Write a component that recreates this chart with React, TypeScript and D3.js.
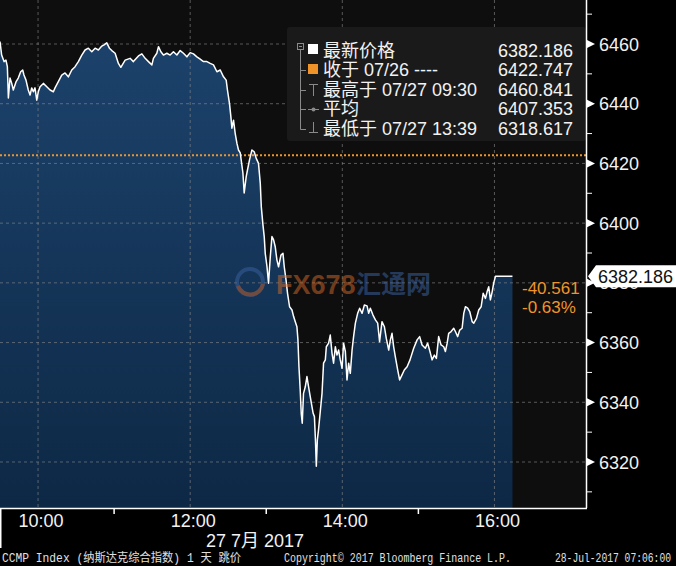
import React from "react";
import * as d3 from "d3";

document.body.style.margin = "0";
document.body.style.background = "#000";

// minutes since 09:30 open
const tradeMinutes = [
  0, 1.3, 3.2, 4.7, 5.8, 6.6, 7.9, 9.2, 10.5, 12.6,
  14.4, 16.3, 17.9, 18.9, 20.5, 22.3, 23.7, 25.0, 26.3, 27.6,
  29.0, 30.2, 31.6, 34.2, 36.9, 39.5, 42.1, 43.4, 46.0, 48.7,
  51.3, 53.9, 56.6, 59.2, 61.8, 64.5, 67.1, 69.7, 72.4, 75.0,
  77.6, 80.3, 82.1, 84.2, 86.3, 88.2, 90.8, 93.4, 95.3, 98.7,
  102.6, 105.2, 109.2, 111.9, 114.5, 117.1, 119.8, 121.0, 123.7, 125.0,
  126.9, 128.9, 131.6, 134.2, 136.8, 139.5, 142.1, 144.7, 147.4, 150.0,
  152.6, 155.3, 157.9, 160.5, 163.2, 165.8, 168.4, 171.1, 173.7, 176.3,
  178.4, 179.4, 181.0, 182.1, 182.9, 184.2, 185.5, 186.9, 188.1, 189.5,
  191.6, 192.6, 194.2, 195.2, 196.8, 198.7, 200.5, 202.1, 203.9, 205.3,
  206.1, 207.4, 208.4, 209.2, 210.6, 211.8, 213.2, 214.5, 215.8, 217.1,
  218.4, 219.7, 221.6, 223.2, 224.2, 225.6, 226.8, 228.4, 230.3, 231.6,
  232.9, 234.2, 235.0, 235.8, 236.8, 237.6, 238.4, 239.4, 240.8, 242.1,
  243.4, 244.7, 246.1, 247.0, 248.0, 248.8, 249.5, 250.3, 251.2, 254.0,
  255.2, 256.6, 257.4, 259.2, 260.5, 261.9, 263.1, 264.5, 265.8, 267.1,
  268.4, 269.8, 271.0, 272.4, 273.7, 275.0, 276.3, 277.7, 278.9, 280.3,
  282.1, 283.7, 285.6, 287.4, 289.5, 290.8, 292.1, 294.2, 296.1, 297.9,
  299.4, 301.3, 303.2, 304.7, 306.6, 307.9, 309.2, 310.5, 311.8, 313.7,
  315.2, 317.1, 318.9, 321.1, 323.4, 326.3, 329.0, 331.0, 332.9, 335.5,
  337.3, 339.5, 340.8, 342.6, 344.2, 346.0, 347.9, 350.0, 351.3, 352.7,
  353.9, 355.8, 357.9, 359.2, 361.0, 362.6, 364.5, 365.8, 367.1, 368.9,
  370.5, 372.4, 373.7, 375.8, 377.6, 379.5, 381.1, 382.9, 384.2, 385.5,
  386.8, 388.2, 389.4, 390.8, 404.2,
];

const tradePrices = [
  6460.841, 6456.3, 6454.1, 6454.6, 6452.4, 6441.9, 6448.6, 6446.9, 6444.6, 6447.3,
  6448.6, 6450.7, 6451.3, 6449.6, 6447.9, 6444.6, 6442.9, 6445.3, 6444.0, 6445.3,
  6441.2, 6444.0, 6445.7, 6446.8, 6445.7, 6444.6, 6444.0, 6445.3, 6447.4, 6449.6,
  6450.3, 6449.0, 6451.3, 6452.4, 6454.1, 6456.3, 6458.0, 6458.6, 6457.4, 6458.6,
  6458.0, 6459.3, 6459.7, 6460.4, 6458.6, 6457.8, 6456.9, 6453.5, 6452.2, 6454.6,
  6455.2, 6454.1, 6456.0, 6456.7, 6455.2, 6454.1, 6453.0, 6455.2, 6456.9, 6459.1,
  6457.4, 6456.3, 6456.9, 6456.3, 6457.4, 6456.3, 6457.8, 6456.9, 6455.7, 6457.1,
  6456.7, 6455.7, 6454.9, 6454.1, 6454.1, 6453.5, 6453.0, 6450.7, 6451.3, 6449.0,
  6447.9, 6444.6, 6440.1, 6435.7, 6431.8, 6434.5, 6430.1, 6426.7, 6424.5, 6423.5,
  6416.8, 6410.1, 6415.6, 6417.8, 6421.2, 6424.5, 6423.9, 6421.7, 6420.0, 6413.3,
  6405.5, 6399.4, 6395.5, 6389.9, 6385.4, 6379.9, 6388.8, 6395.5, 6394.4, 6392.1,
  6387.7, 6385.4, 6389.3, 6389.9, 6385.4, 6381.0, 6376.5, 6372.0, 6370.9, 6368.7,
  6367.0, 6365.3, 6360.9, 6351.9, 6344.1, 6336.3, 6333.0, 6343.0, 6345.2, 6348.6,
  6345.2, 6341.9, 6338.5, 6336.3, 6335.2, 6327.4, 6318.617, 6327.4, 6330.7, 6343.0,
  6353.1, 6354.2, 6358.6, 6359.8, 6362.5, 6356.4, 6353.1, 6358.6, 6355.8, 6357.5,
  6354.2, 6351.4, 6359.8, 6357.0, 6347.5, 6353.1, 6349.7, 6357.5, 6362.0, 6366.5,
  6369.8, 6371.5, 6369.8, 6372.6, 6372.3, 6369.8, 6371.5, 6369.2, 6367.6, 6366.5,
  6360.3, 6367.0, 6365.3, 6361.4, 6357.5, 6360.9, 6363.1, 6358.6, 6355.3, 6350.8,
  6347.5, 6349.2, 6350.8, 6351.9, 6354.2, 6358.1, 6360.9, 6362.0, 6359.2, 6358.1,
  6359.8, 6356.4, 6354.2, 6355.8, 6354.7, 6362.0, 6359.2, 6358.6, 6357.0, 6359.8,
  6363.1, 6363.7, 6364.8, 6363.7, 6362.0, 6364.2, 6364.8, 6369.8, 6372.0, 6371.5,
  6370.4, 6367.0, 6366.5, 6368.1, 6370.9, 6372.0, 6376.5, 6374.8, 6377.0, 6378.7,
  6374.3, 6377.0, 6379.9, 6382.186, 6382.186,
];

const prevClose = 6422.747;
const lastPrice = 6382.186;
const lastPriceLabel = "6382.186";
const changeLabels = ["-40.561", "-0.63%"];

const yTicks = [6320, 6340, 6360, 6380, 6400, 6420, 6440, 6460];
const yMinorTicks = [6310, 6330, 6350, 6370, 6390, 6410, 6430, 6450, 6470];
const xTickMinutes = [30, 150, 270, 390];
const xTickLabels = ["10:00", "12:00", "14:00", "16:00"];
const xMinorMinutes = [90, 210, 330];
const dateLabel = "27 7月 2017";

const legendLabels = ["最新价格", "收于 07/26 ----", "最高于 07/27 09:30", "平均", "最低于 07/27 13:39"];
const legendValues = ["6382.186", "6422.747", "6460.841", "6407.353", "6318.617"];

const footerTexts = [
  "CCMP Index (纳斯达克综合指数) 1 天  跳价",
  "Copyright© 2017 Bloomberg Finance L.P.",
  "28-Jul-2017 07:06:00",
];

const W = 676;
const H = 566;
const PR = 587;
const PB = 508;
const SANS = "'Liberation Sans', Arial, 'Noto Sans CJK SC', sans-serif";
const MONO = "'Liberation Mono', 'Noto Sans CJK SC', monospace";
const ORANGE = "#f0942a";

export default function App() {
  const x = d3.scaleLinear().domain([0, 463]).range([0, PR]);
  const y = d3.scaleLinear().domain([6320, 6460]).range([462, 44]);
  const data = tradeMinutes.map((m, i) => ({ m, v: tradePrices[i] }));

  const area = d3
    .area<{ m: number; v: number }>()
    .x((d) => x(d.m))
    .y0(PB)
    .y1((d) => y(d.v));
  const line = d3
    .line<{ m: number; v: number }>()
    .x((d) => x(d.m))
    .y((d) => y(d.v));

  const yLast = y(lastPrice);
  const legendBase = [56.5, 76, 95.5, 115, 134.5];

  return (
    <svg width={W} height={H} style={{ display: "block", background: "#000" }}>
      <defs>
        <linearGradient id="areaGrad" x1="0" y1="0" x2="0" y2="1">
          <stop offset="0%" stopColor="#1c426b" />
          <stop offset="100%" stopColor="#0d2845" />
        </linearGradient>
        <clipPath id="plotClip">
          <rect x={0} y={0} width={PR} height={PB} />
        </clipPath>
      </defs>
      <rect x={0} y={0} width={W} height={H} fill="#000" />
      <rect x={0} y={0} width={PR} height={PB} fill="#0e0e0e" />

      <g clipPath="url(#plotClip)">
        <path d={area(data) || ""} fill="url(#areaGrad)" />
        {yTicks.map((t) => (
          <line key={"hg" + t} x1={0} x2={PR} y1={y(t)} y2={y(t)} stroke="#8a8a8a" strokeOpacity={0.6} strokeDasharray="3,3" />
        ))}
        {xTickMinutes.map((t) => (
          <line key={"vg" + t} x1={x(t)} x2={x(t)} y1={0} y2={PB} stroke="#8a8a8a" strokeOpacity={0.6} strokeDasharray="3,3" />
        ))}
        <line x1={0} x2={PR} y1={y(prevClose)} y2={y(prevClose)} stroke={ORANGE} strokeWidth={2} strokeDasharray="2,2" />
        <path d={line(data) || ""} fill="none" stroke="#fff" strokeWidth={1.5} strokeLinejoin="round" />
      </g>

      {/* watermark */}
      <g opacity={0.5}>
        <circle cx={250} cy={282} r={13} fill="none" stroke="#3a62a0" strokeWidth={4} />
        <path d="M238,286 A13,13 0 0,0 263,284" fill="none" stroke="#d0622a" strokeWidth={4} />
        <text x={276} y={294} fontFamily={SANS} fontWeight="bold" fontSize={27} fill="#d66a2a">FX678</text>
        <text x={356} y={293} fontFamily="'Noto Sans CJK SC', sans-serif" fontWeight="bold" fontSize={25} fill="#3d66a8">汇通网</text>
      </g>

      {/* legend */}
      <rect x={287} y={27} width={299} height={114} rx={3} fill="#1a1a1a" />
      <g stroke="#8a8a8a" strokeWidth={1} fill="none">
        <rect x={297.5} y={43.5} width={6} height={6} />
        <line x1={299} x2={302} y1={46.5} y2={46.5} />
        <line x1={300.5} x2={300.5} y1={49.5} y2={129.5} />
        <line x1={300.5} x2={306} y1={70.5} y2={70.5} />
        <line x1={300.5} x2={306} y1={90.5} y2={90.5} />
        <line x1={300.5} x2={306} y1={109.5} y2={109.5} />
        <line x1={300.5} x2={306} y1={129.5} y2={129.5} />
        <line x1={309} x2={318} y1={84.5} y2={84.5} />
        <line x1={313.5} x2={313.5} y1={84.5} y2={96} />
        <line x1={308} x2={319} y1={109.5} y2={109.5} />
        <line x1={313.5} x2={313.5} y1={122} y2={132.5} />
        <line x1={309} x2={318} y1={132.5} y2={132.5} />
      </g>
      <circle cx={313.5} cy={109.5} r={2} fill="#8a8a8a" />
      <rect x={308} y={44} width={10} height={10} fill="#fff" />
      <rect x={308} y={64} width={10} height={10} fill={ORANGE} />
      {legendLabels.map((l, i) => (
        <text key={"ll" + i} x={323} y={legendBase[i]} fontFamily={SANS} fontSize={18} fill="#f2f2f2">{l}</text>
      ))}
      {legendValues.map((v, i) => (
        <text key={"lv" + i} x={573} y={legendBase[i]} textAnchor="end" fontFamily={SANS} fontSize={18} fill="#f2f2f2">{v}</text>
      ))}

      {/* right axis */}
      <line x1={PR - 0.5} x2={PR - 0.5} y1={0} y2={PB} stroke="#fff" strokeWidth={1.5} />
      {yMinorTicks.map((t) => (
        <line key={"ym" + t} x1={PR} x2={PR + 5} y1={y(t)} y2={y(t)} stroke="#fff" strokeWidth={1} />
      ))}
      {yTicks.map((t) => (
        <g key={"yt" + t}>
          <path d={`M${PR},${y(t) - 4}L${PR + 8},${y(t)}L${PR},${y(t) + 4}Z`} fill="#fff" />
          <text x={599} y={y(t) + 6.5} fontFamily={SANS} fontSize={18} fill="#f2f2f2">{t}</text>
        </g>
      ))}

      {/* last price tag */}
      <path
        d={`M${PR + 1},${yLast}L${PR + 9},${yLast - 11}H${W}V${yLast + 11}H${PR + 9}Z`}
        fill="#fff"
      />
      <text x={598} y={yLast + 6.5} fontFamily={SANS} fontSize={18} fill="#111">{lastPriceLabel}</text>
      <text x={522} y={294} fontFamily={SANS} fontSize={17} fill={ORANGE}>{changeLabels[0]}</text>
      <text x={522} y={313} fontFamily={SANS} fontSize={17} fill={ORANGE}>{changeLabels[1]}</text>

      {/* bottom axis */}
      <line x1={0} x2={PR} y1={PB + 0.5} y2={PB + 0.5} stroke="#fff" strokeWidth={1.5} />
      <line x1={0.75} x2={0.75} y1={PB} y2={548} stroke="#fff" strokeWidth={1.5} />
      {xMinorMinutes.map((t) => (
        <line key={"xm" + t} x1={x(t)} x2={x(t)} y1={PB} y2={PB + 6} stroke="#fff" strokeWidth={1.5} />
      ))}
      {xTickMinutes.map((t, i) => (
        <text key={"xt" + t} x={x(t) + 3} y={527} textAnchor="middle" fontFamily={SANS} fontSize={18} fill="#f2f2f2">{xTickLabels[i]}</text>
      ))}
      <text x={206} y={547} fontFamily={SANS} fontSize={18} fill="#f2f2f2">{dateLabel}</text>

      {/* footer */}
      <text x={2} y={562} fontFamily={MONO} fontSize={12} fill="#e0e0e0" textLength={239} lengthAdjust="spacingAndGlyphs">{footerTexts[0]}</text>
      <text x={284} y={562} fontFamily={MONO} fontSize={12} fill="#e0e0e0" textLength={227} lengthAdjust="spacingAndGlyphs">{footerTexts[1]}</text>
      <text x={555} y={562} fontFamily={MONO} fontSize={12} fill="#e0e0e0" textLength={116} lengthAdjust="spacingAndGlyphs">{footerTexts[2]}</text>
    </svg>
  );
}
